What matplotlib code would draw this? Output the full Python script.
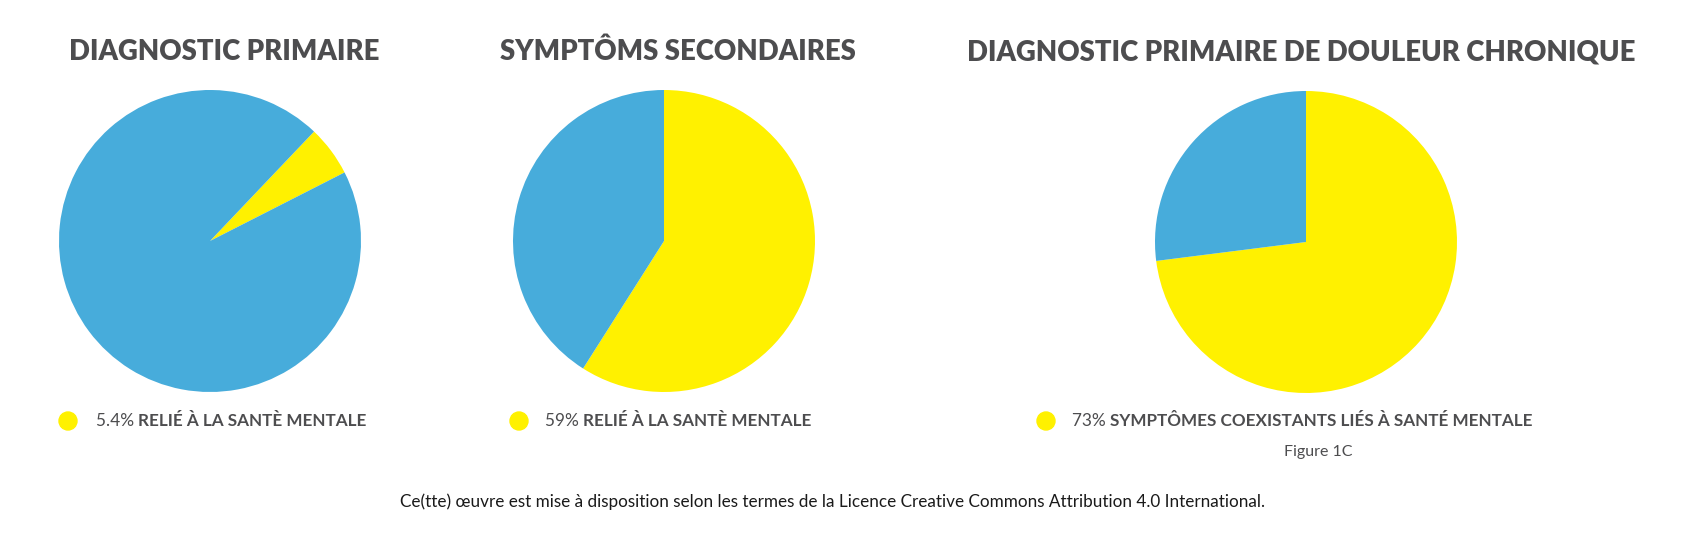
import matplotlib
matplotlib.use("Agg")
import matplotlib.pyplot as plt

W, H = 1700, 541
titles = ["DIAGNOSTIC PRIMAIRE", "SYMPTÔMS SECONDAIRES", "DIAGNOSTIC PRIMAIRE DE DOULEUR CHRONIQUE"]
yellow_vals = [5.4, 59, 73]
blue_vals = [94.6, 41, 27]
pct_labels = ["5.4%", "59%", "73%"]
legend_labels = ["RELIÉ À LA SANTÈ MENTALE", "RELIÉ À LA SANTÈ MENTALE",
                 "SYMPTÔMES COEXISTANTS LIÉS À SANTÉ MENTALE"]
footer = "Ce(tte) œuvre est mise à disposition selon les termes de la Licence Creative Commons Attribution 4.0 International."
figure_label = "Figure 1C"

YELLOW = "#FFF100"
BLUE = "#47ACDB"
GRAY = "#4D4D4F"

# layout (pixels)
centers = [(210, 241), (664, 241), (1306, 242)]
radius = 151
starts = [27, 90, 90]
counter = [True, False, False]
title_x = [224, 678, 1301]
title_y = 52
dot_x = [68, 519, 1046]
text_x = [96, 545, 1072]
leg_y = 421

fig = plt.figure(figsize=(W / 100, H / 100), dpi=100)
fig.patch.set_facecolor("white")

for i in range(3):
    cx, cy = centers[i]
    ax = fig.add_axes([(cx - radius) / W, (H - cy - radius) / H, 2 * radius / W, 2 * radius / H])
    ax.pie([yellow_vals[i], blue_vals[i]], colors=[YELLOW, BLUE], startangle=starts[i],
           counterclock=counter[i], radius=1, wedgeprops=dict(linewidth=0))
    ax.set_xlim(-1, 1)
    ax.set_ylim(-1, 1)
    ax.set_aspect("equal")
    ax.axis("off")

    fig.text(title_x[i] / W, 1 - title_y / H, titles[i], ha="center", va="center",
             fontsize=19.8, fontweight="heavy", family="Lato", color=GRAY)

    fig.patches.append(matplotlib.patches.Ellipse((dot_x[i] / W, 1 - leg_y / H), 18 / W, 18 / H,
                                                  transform=fig.transFigure, color=YELLOW))
    t1 = fig.text(text_x[i] / W, 1 - leg_y / H, pct_labels[i] + " ", ha="left", va="center",
                  fontsize=12.4, family="Lato", color=GRAY)
    plt.annotate(legend_labels[i], xy=(1, 0.5), xycoords=t1, ha="left", va="center",
                 fontsize=12.3, fontweight="bold", family="Lato", color=GRAY)

fig.text(1318 / W, 1 - 452 / H, figure_label, ha="center", va="center",
         fontsize=11.5, family="Lato", color=GRAY)
fig.text(832 / W, 1 - 502 / H, footer, ha="center", va="center",
         fontsize=12.3, family="Lato", color="#1a1a1a")

fig.savefig("out.png", dpi=100, facecolor="white")
